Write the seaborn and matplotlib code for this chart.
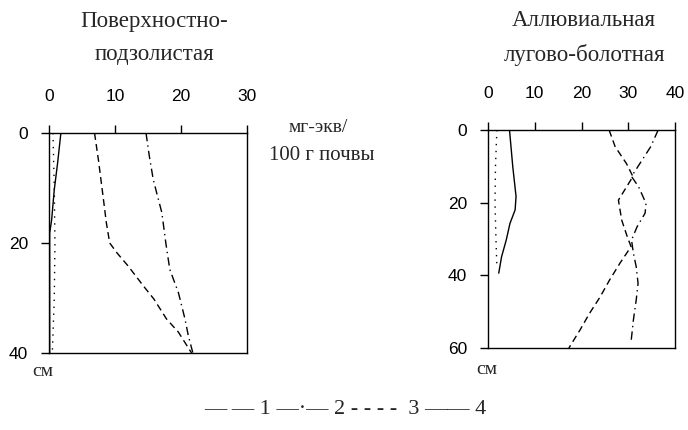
import matplotlib
matplotlib.use("Agg")
import matplotlib.pyplot as plt
import seaborn as sns
import pandas as pd

# ---------- data ----------
# Left panel: Поверхностно-подзолистая (depth 0-40 cm)
left_depth_1 = [0, 5, 11.6, 16.4, 20, 21.8, 24.2, 27.8, 30.2, 33.8, 36.2, 40]
left_val_1 = [6.9, 7.5, 8.2, 8.7, 9.2, 10.3, 12.0, 14.3, 15.9, 17.8, 19.6, 21.6]
left_depth_2 = [0, 4.2, 8.5, 14.5, 20, 24.8, 29, 33.8, 36.8, 40]
left_val_2 = [14.7, 15.2, 15.8, 17.1, 17.7, 18.3, 19.6, 20.6, 21.1, 21.8]
left_depth_3 = [0, 10, 20, 30, 40]
left_val_3 = [0.6, 0.8, 0.9, 0.8, 0.5]
left_depth_4 = [0, 5.5, 10.3, 15.8, 18.2, 40]
left_val_4 = [1.8, 1.3, 0.8, 0.4, 0.1, 0.1]

# Right panel: Аллювиальная лугово-болотная (depth 0-60 cm)
right_depth_1 = [0, 4.6, 9.2, 12.8, 19.3, 24.8, 29.4, 32.1, 36.7, 41.3, 45.9, 50.5, 55, 60]
right_val_1 = [25.9, 27.2, 29.6, 31.0, 27.9, 28.6, 29.8, 30.6, 28.2, 26.0, 24.0, 21.7, 19.7, 17.3]
right_depth_2 = [0, 4.6, 9.2, 12.8, 15.6, 20.2, 22.9, 26.6, 30.3, 33.9, 37.6, 42.2, 46.8, 52.3, 58.3]
right_val_2 = [36.4, 34.8, 32.5, 30.7, 32.2, 33.8, 33.6, 31.9, 30.7, 31.1, 31.7, 32.1, 31.7, 31.1, 30.6]
right_depth_3 = [0, 10, 20, 30, 37.5]
right_val_3 = [1.9, 1.6, 1.5, 1.7, 1.9]
right_depth_4 = [0, 10.1, 18.3, 22, 25.7, 30.3, 34.9, 39.4]
right_val_4 = [4.6, 5.3, 6.0, 5.8, 4.7, 3.9, 2.9, 2.3]

left_xticks = [0, 10, 20, 30]
left_yticks = [0, 20, 40]
right_xticks = [0, 10, 20, 30, 40]
right_yticks = [0, 20, 40, 60]

title_left = "Поверхностно-\nподзолистая"
title_right = "Аллювиальная\nлугово-болотная"
units_1 = "мг-экв/"
units_2 = "100 г почвы"
depth_unit = "см"
legend_text = "— — 1 —·— 2 - - - -  3 —— 4"

# ---------- style ----------
sns.set_style("white")
plt.rcParams["font.family"] = ["Liberation Serif", "DejaVu Serif"]

styles = {
    "1": (5, 3),
    "2": (6, 3, 1, 3),
    "3": (1, 4),
    "4": (),
}

fig = plt.figure(figsize=(6.88, 4.30), dpi=100)
ax1 = fig.add_axes([49 / 688, 1 - 353 / 430, 198 / 688, 220 / 430])
ax2 = fig.add_axes([488 / 688, 1 - 348 / 430, 187 / 688, 218 / 430])


def draw(ax, series, xlim, ylim, xticks, yticks):
    for key, (d, v) in series.items():
        df = pd.DataFrame({"depth": d, "val": v})
        sns.lineplot(data=df, x="val", y="depth", sort=False, estimator=None,
                     ax=ax, color="black", linewidth=1.0)
        ln = ax.get_lines()[-1]
        if styles[key]:
            ln.set_dashes(styles[key])
    ax.set_xlim(*xlim)
    ax.set_ylim(ylim[1], ylim[0])
    ax.set_xticks(xticks)
    ax.set_yticks(yticks)
    ax.xaxis.tick_top()
    ax.set_xlabel("")
    ax.set_ylabel("")
    for s in ax.spines.values():
        s.set_visible(True)
        s.set_color("black")
        s.set_linewidth(1.0)
    ax.tick_params(axis="x", direction="out", length=6, width=1, pad=15,
                   labelsize=12.5, colors="black", top=True, bottom=False)
    ax.tick_params(axis="y", direction="out", length=6, width=1, pad=9,
                   labelsize=12.5, colors="black", left=True)
    for lab in ax.get_xticklabels() + ax.get_yticklabels():
        lab.set_fontfamily(["Liberation Sans", "DejaVu Sans"])


draw(ax1,
     {"1": (left_depth_1, left_val_1), "2": (left_depth_2, left_val_2),
      "3": (left_depth_3, left_val_3), "4": (left_depth_4, left_val_4)},
     (0, 30), (0, 40), left_xticks, left_yticks)
draw(ax2,
     {"1": (right_depth_1, right_val_1), "2": (right_depth_2, right_val_2),
      "3": (right_depth_3, right_val_3), "4": (right_depth_4, right_val_4)},
     (0, 40), (0, 60), right_xticks, right_yticks)

W, H = 688, 430


def ftext(x, y, s, **kw):
    fig.text(x / W, 1 - y / H, s, **kw)


ftext(154, 38, title_left, ha="center", va="center", fontsize=16.5, linespacing=1.75)
ftext(584, 38, title_right, ha="center", va="center", fontsize=16.5, linespacing=1.75)
ftext(318, 127, units_1, ha="center", va="center", fontsize=14)
ftext(322, 155, units_2, ha="center", va="center", fontsize=15)
ftext(43, 372, depth_unit, ha="center", va="center", fontsize=14)
ftext(487, 369, depth_unit, ha="center", va="center", fontsize=14)
ftext(345, 410, legend_text, ha="center", va="center", fontsize=16)

fig.savefig("out.png", dpi=100, facecolor="white")
